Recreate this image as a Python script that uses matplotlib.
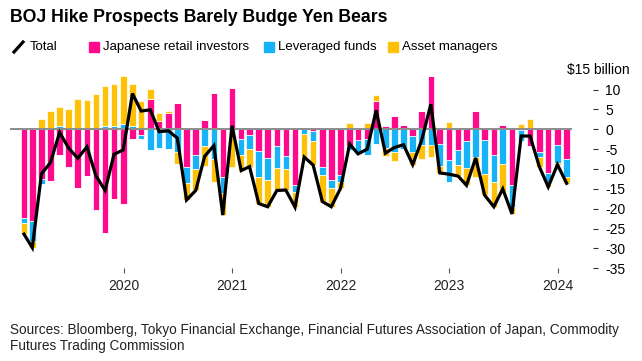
import matplotlib
matplotlib.use("Agg")
import matplotlib.pyplot as plt
import matplotlib.dates as mdates
from matplotlib.patches import Rectangle
from matplotlib.lines import Line2D
import matplotlib.transforms as mtransforms
import numpy as np
import pandas as pd

plt.rcParams['font.family'] = ['Liberation Sans', 'DejaVu Sans']
plt.rcParams['axes.unicode_minus'] = False

# ---- data (USD billion, monthly, Jan 2019 - Jan 2024) ----
months = pd.date_range('2019-01-31', periods=61, freq='ME')

retail = [-22.3, -23.1, -12.4, -12.9, -6.5, -9.4, -14.9, -11.8, -20.2, -26.2,
          -17.6, -18.7, -2.4, -1.4, 7.6, 2.1, 4.0, 6.6, -9.4, -6.5,
          2.4, 9.1, -11.9, 10.3, -2.5, -1.4, -5.5, -7.3, -4.2, -6.7,
          -14.0, 0.5, -0.4, -9.6, -12.8, -11.5, -4.2, -2.7, -2.5, 7.1,
          0.7, 3.4, 1.1, -1.8, 4.7, 13.3, -3.7, -7.7, -5.2, -2.9,
          4.7, -2.7, -6.5, 1.1, -14.0, -0.2, -4.2, -5.6, -11.1, -3.9,
          -7.6]
leveraged = [-1.3, -5.0, -1.3, 0.0, 0.8, -0.3, 0.4, 0.0, -0.4, 0.7,
             0.8, 1.3, 0.9, -1.1, -5.2, -4.8, -5.0, -5.6, -4.2, -3.6,
             -4.2, -7.6, -4.2, -0.8, -3.9, -3.6, -6.5, -5.5, -5.6, -3.4,
             -1.9, -1.2, -2.5, -1.9, -2.1, -1.7, -1.0, -3.5, -4.0, -3.8,
             -4.8, -5.7, -5.0, -4.0, -3.9, -3.9, -5.5, -5.5, -3.8, -6.8,
             -6.9, -8.6, -6.7, -8.7, -5.5, -2.8, 0.0, -1.4, -2.1, -4.6,
             -4.5]
asset = [-2.8, -1.7, 2.5, 4.5, 4.9, 5.0, 7.2, 7.4, 8.9, 10.1,
         10.5, 12.2, 10.5, 7.1, 2.5, 2.1, 0.6, -3.2, -4.2, -5.3,
         -5.0, -5.6, -5.5, -8.6, -4.0, -4.4, -6.7, -6.7, -5.6, -5.2,
         -3.7, -6.3, -6.1, -6.7, -4.6, -1.7, 1.5, 0.0, 1.5, 1.5,
         -1.9, -2.3, 0.0, -3.1, -3.6, -3.1, -1.8, 1.9, -2.8, -4.4,
         -5.0, -5.3, -6.3, -7.4, -1.8, 1.3, 2.5, -2.4, -1.3, -0.4,
         -1.5]
total = [-26.4, -29.8, -11.2, -8.4, -0.8, -4.7, -7.3, -4.4, -11.7, -15.4,
         -6.3, -5.2, 9.0, 4.6, 4.9, -0.6, -0.4, -2.2, -17.8, -15.4,
         -6.8, -4.1, -21.6, 0.9, -10.4, -9.4, -18.7, -19.5, -15.4, -15.3,
         -19.6, -7.0, -9.0, -18.2, -19.5, -14.9, -3.7, -6.2, -5.0, 4.8,
         -6.0, -4.6, -3.9, -8.9, -2.8, 6.3, -11.0, -11.3, -11.8, -14.1,
         -7.2, -16.6, -19.5, -15.0, -21.3, -1.7, -1.7, -9.4, -14.5, -8.9,
         -13.6]

series_names = ['Japanese retail investors', 'Leveraged funds', 'Asset managers']
series_values = [retail, leveraged, asset]
colors = ['#FF0A8C', '#17B2F7', '#FFC107']
y_ticks = [10, 5, 0, -5, -10, -15, -20, -25, -30, -35]
year_ticks = ['2020', '2021', '2022', '2023', '2024']
unit_label = '$15 billion'
title = 'BOJ Hike Prospects Barely Budge Yen Bears'
source = ('Sources: Bloomberg, Tokyo Financial Exchange, Financial Futures Association of Japan, Commodity\n'
          'Futures Trading Commission')

# ---- figure ----
W, H = 642, 361
fig = plt.figure(figsize=(W / 100, H / 100), dpi=100)

def fx(px):
    return px / W

def fy(py):
    return 1 - py / H

ax = fig.add_axes([fx(10), fy(268.3), fx(572) - fx(10), fy(69.7) - fy(268.3)])

x = mdates.date2num(months.to_pydatetime())
pos_base = np.zeros(len(x))
neg_base = np.zeros(len(x))
for vals, c in zip(series_values, colors):
    v = np.array(vals, dtype=float)
    pos = np.where(v > 0, v, 0)
    neg = np.where(v < 0, v, 0)
    ax.bar(x, pos, bottom=pos_base, width=22, color=c, edgecolor='white', linewidth=0.5, zorder=2)
    ax.bar(x, neg, bottom=neg_base, width=22, color=c, edgecolor='white', linewidth=0.5, zorder=2)
    pos_base += pos
    neg_base += neg

ax.axhline(0, color='#8c8c8c', linewidth=1.4, zorder=3)
ax.plot(x, total, color='black', linewidth=2.3, zorder=4, solid_joinstyle='miter')

ax.set_ylim(-35, 15)
ax.set_xlim(mdates.date2num(pd.Timestamp('2018-12-15')), mdates.date2num(pd.Timestamp('2024-02-18')))

for s in ax.spines.values():
    s.set_visible(False)
ax.spines['right'].set_position(('outward', 15))

ax.yaxis.tick_right()
ax.set_yticks(y_ticks)
ax.set_yticklabels([str(t) for t in y_ticks])
ax.tick_params(axis='y', length=3.6, width=0.8, color='#333333', pad=5.5,
               labelsize=10, labelcolor='black')

ax.set_xticks([mdates.date2num(pd.Timestamp(y + '-01-01')) for y in year_ticks])
ax.set_xticklabels(year_ticks)
ax.tick_params(axis='x', length=3.5, width=0.8, color='#555555', pad=4,
               labelsize=10, labelcolor='#222222')

trans = mtransforms.blended_transform_factory(fig.transFigure, ax.transData)
fig.text(fx(630), 15, unit_label, transform=trans, ha='right', va='center', fontsize=10)

# title
fig.text(fx(10), fy(18), title, ha='left', va='center', fontsize=12.7, fontweight='bold')

# legend
ly = 47
fig.add_artist(Line2D([fx(14), fx(23)], [fy(ly + 5), fy(ly - 5)], color='black', linewidth=2.3,
                      transform=fig.transFigure))
fig.text(fx(30), fy(ly), 'Total', ha='left', va='center', fontsize=9.5)
legend_x = [89, 264, 388]
for lx, name, c in zip(legend_x, series_names, colors):
    fig.add_artist(Rectangle((fx(lx), fy(ly + 5)), fx(10), 10 / H, color=c,
                             transform=fig.transFigure))
    fig.text(fx(lx + 14), fy(ly), name, ha='left', va='center', fontsize=9.5)

# source
fig.text(fx(10), fy(338), source, ha='left', va='center', fontsize=9.8,
         color='#222222', linespacing=1.25)

fig.savefig('out.png', dpi=100)
